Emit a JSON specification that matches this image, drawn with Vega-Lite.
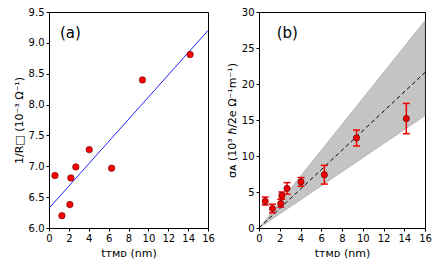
{
  "$schema": "https://vega.github.io/schema/vega-lite/v6.json",
  "background": "white",
  "padding": {"left": 12, "top": 6, "right": 8, "bottom": 5},
  "spacing": 10,
  "config": {
    "font": "DejaVu Sans",
    "view": {"stroke": "black", "strokeWidth": 1},
    "axis": {"grid": false, "domain": false, "labelOverlap": false, "labelFlush": false, "labelFont": "DejaVu Sans", "labelFontSize": 10, "labelColor": "black", "titleFont": "DejaVu Sans", "titleFontSize": 11, "titleFontWeight": "normal", "titleColor": "black", "tickColor": "black", "tickSize": 3, "labelPadding": 2}
  },
  "datasets": {
    "pts": [
      {"t": 0.6, "r": 6.85, "s": 3.7, "lo": 3.2, "hi": 4.3},
      {"t": 1.3, "r": 6.2, "s": 2.7, "lo": 2.1, "hi": 3.3},
      {"t": 2.1, "r": 6.38, "s": 3.4, "lo": 2.9, "hi": 4.0},
      {"t": 2.2, "r": 6.81, "s": 4.5, "lo": 4.0, "hi": 5.0},
      {"t": 2.7, "r": 6.99, "s": 5.5, "lo": 4.7, "hi": 6.3},
      {"t": 4.05, "r": 7.27, "s": 6.4, "lo": 5.8, "hi": 7.0},
      {"t": 6.3, "r": 6.97, "s": 7.4, "lo": 6.1, "hi": 8.7},
      {"t": 9.4, "r": 8.4, "s": 12.5, "lo": 11.4, "hi": 13.6},
      {"t": 14.2, "r": 8.81, "s": 15.2, "lo": 13.1, "hi": 17.3}
    ],
    "fitA": [{"t": 0, "r": 6.32}, {"t": 16, "r": 9.2}],
    "fitB": [{"t": 0, "s": 0, "lo": 0, "hi": 0}, {"t": 16, "s": 21.6, "lo": 15.6, "hi": 28.8}],
    "labA": [{"t": 1.1, "r": 9.16, "txt": "(a)"}],
    "labB": [{"t": 1.7, "s": 27.1, "txt": "(b)"}]
  },
  "hconcat": [
    {
      "width": 159, "height": 216,
      "encoding": {
        "x": {"field": "t", "type": "quantitative", "scale": {"domain": [0, 16], "nice": false}, "axis": {"values": [0,2,4,6,8,10,12,14,16], "labelOverlap": false, "title": "tᴛᴍᴅ (nm)"}},
        "y": {"field": "r", "type": "quantitative", "scale": {"domain": [6.0, 9.5], "nice": false, "zero": false}, "axis": {"values": [6.0,6.5,7.0,7.5,8.0,8.5,9.0,9.5], "labelOverlap": false, "format": ".1f", "title": "1/R□ (10⁻³ Ω⁻¹)"}}
      },
      "layer": [
        {
          "data": {"name": "fitA"},
          "mark": {"type": "line", "color": "#2222ff", "strokeWidth": 1}
        },
        {
          "data": {"name": "pts"},
          "mark": {"type": "circle", "color": "#ff0000", "size": 42, "opacity": 1, "stroke": "#550000", "strokeWidth": 0.6}
        },
        {
          "data": {"name": "labA"},
          "mark": {"type": "text", "align": "left", "fontSize": 15, "font": "DejaVu Sans"},
          "encoding": {"text": {"field": "txt"}}
        }
      ]
    },
    {
      "width": 166, "height": 216,
      "encoding": {
        "x": {"field": "t", "type": "quantitative", "scale": {"domain": [0, 16], "nice": false}, "axis": {"values": [0,2,4,6,8,10,12,14,16], "labelOverlap": false, "title": "tᴛᴍᴅ (nm)"}},
        "y": {"field": "s", "type": "quantitative", "scale": {"domain": [0, 30], "nice": false}, "axis": {"values": [0,5,10,15,20,25,30], "labelOverlap": false, "title": "σᴀ (10³ ℏ/2e Ω⁻¹m⁻¹)"}}
      },
      "layer": [
        {
          "data": {"name": "fitB"},
          "mark": {"type": "area", "color": "#c4c4c4", "opacity": 1, "stroke": "#999999", "strokeWidth": 0.5},
          "encoding": {
            "y": {"field": "lo", "type": "quantitative", "scale": {"domain": [0, 30], "nice": false}, "axis": {"values": [0,5,10,15,20,25,30], "labelOverlap": false, "title": "σᴀ (10³ ℏ/2e Ω⁻¹m⁻¹)"}},
            "y2": {"field": "hi"}
          }
        },
        {
          "data": {"name": "fitB"},
          "mark": {"type": "line", "color": "black", "strokeWidth": 1, "strokeDash": [4, 3]}
        },
        {
          "data": {"name": "pts"},
          "mark": {"type": "rule", "color": "#ee0000", "strokeWidth": 1.5},
          "encoding": {
            "y": {"field": "lo", "type": "quantitative", "scale": {"domain": [0, 30], "nice": false}, "axis": {"values": [0,5,10,15,20,25,30], "labelOverlap": false, "title": "σᴀ (10³ ℏ/2e Ω⁻¹m⁻¹)"}},
            "y2": {"field": "hi"}
          }
        },
        {
          "data": {"name": "pts"},
          "mark": {"type": "tick", "orient": "horizontal", "color": "#ee0000", "size": 7, "thickness": 1.5, "opacity": 1},
          "encoding": {
            "y": {"field": "lo", "type": "quantitative", "scale": {"domain": [0, 30], "nice": false}, "axis": {"values": [0,5,10,15,20,25,30], "labelOverlap": false, "title": "σᴀ (10³ ℏ/2e Ω⁻¹m⁻¹)"}}
          }
        },
        {
          "data": {"name": "pts"},
          "mark": {"type": "tick", "orient": "horizontal", "color": "#ee0000", "size": 7, "thickness": 1.5, "opacity": 1},
          "encoding": {
            "y": {"field": "hi", "type": "quantitative", "scale": {"domain": [0, 30], "nice": false}, "axis": {"values": [0,5,10,15,20,25,30], "labelOverlap": false, "title": "σᴀ (10³ ℏ/2e Ω⁻¹m⁻¹)"}}
          }
        },
        {
          "data": {"name": "pts"},
          "mark": {"type": "circle", "color": "#ee0000", "size": 40, "opacity": 1, "stroke": "#550000", "strokeWidth": 0.6}
        },
        {
          "data": {"name": "labB"},
          "mark": {"type": "text", "align": "left", "fontSize": 15, "font": "DejaVu Sans"},
          "encoding": {"text": {"field": "txt"}}
        }
      ]
    }
  ]
}
